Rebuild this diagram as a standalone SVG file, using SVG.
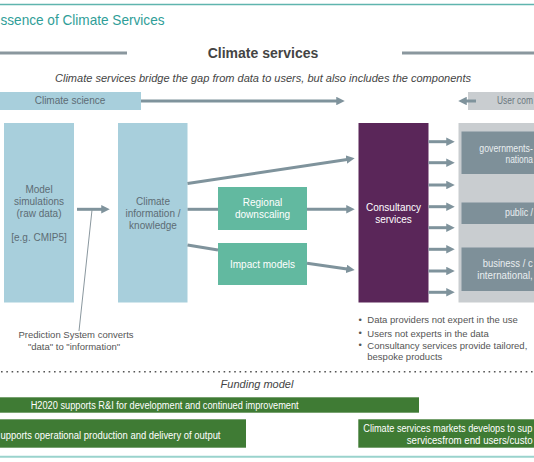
<svg xmlns="http://www.w3.org/2000/svg" width="534" height="462" viewBox="0 0 534 462">
<defs>
<style>
text{font-family:"Liberation Sans",Arial,sans-serif;}
.bt{font-size:10px;fill:#5d6c74;text-anchor:middle;}
.wt{font-size:10px;fill:#ffffff;text-anchor:middle;}
.gt{font-size:10px;fill:#e9eef0;}
.blt{font-size:9.5px;fill:#555;}
.ft{font-size:10px;fill:#ffffff;}
.conn{stroke:#7f939c;stroke-width:3;fill:none;}
.blue{fill:#a8cfdc;}
.teal{fill:#62b9a0;}
.green{fill:#3f7b34;}
.dgrey{fill:#7e9099;}
</style>
<marker id="ah" viewBox="0 0 10 10" refX="5" refY="5" markerWidth="8.5" markerHeight="8.5" markerUnits="userSpaceOnUse" orient="auto">
<path d="M0,0 L10,5 L0,10 z" fill="#7f939c"/>
</marker>
</defs>

<rect width="534" height="462" fill="#ffffff"/>

<!-- header -->
<g id="header">
<line x1="0" y1="4.5" x2="534" y2="4.5" stroke="#5fb5ae" stroke-width="1.5"/>
<text x="0.5" y="25" font-size="14.5" fill="#2f9e98" textLength="164" lengthAdjust="spacingAndGlyphs">ssence of Climate Services</text>
<line x1="0" y1="53" x2="127" y2="53" stroke="#8a979e" stroke-width="3"/>
<line x1="402" y1="53" x2="534" y2="53" stroke="#8a979e" stroke-width="3"/>
<text x="263" y="57.5" font-size="14" font-weight="bold" fill="#444" text-anchor="middle">Climate services</text>
<text x="263" y="81.5" font-size="11" font-style="italic" fill="#444" text-anchor="middle" textLength="416" lengthAdjust="spacingAndGlyphs">Climate services bridge the gap from data to users, but also includes the components</text>
</g>

<g id="climate-science">
<rect x="0" y="92" width="141" height="18" class="blue"/>
<text x="70" y="104" class="bt">Climate science</text>
</g>

<g id="user-community">
<rect x="468" y="92" width="66" height="18" fill="#c9cdd0"/>
<text x="497" y="104" class="gt" style="fill:#6b777e" textLength="36" lengthAdjust="spacingAndGlyphs">User com</text>
</g>

<g id="model-simulations">
<rect x="4" y="123" width="70" height="179.5" class="blue"/>
<text x="39" y="192.5" class="bt">Model</text>
<text x="39" y="204.5" class="bt">simulations</text>
<text x="39" y="216.5" class="bt">(raw data)</text>
<text x="39" y="240.5" class="bt">[e.g. CMIP5]</text>
</g>

<g id="climate-information">
<rect x="118" y="123" width="69.5" height="179.5" class="blue"/>
<text x="153" y="204.5" class="bt">Climate</text>
<text x="153" y="216.5" class="bt">information /</text>
<text x="153" y="228.5" class="bt">knowledge</text>
</g>

<g id="regional-downscaling">
<rect x="218" y="187" width="89" height="43" class="teal"/>
<text x="262.5" y="206.3" class="wt">Regional</text>
<text x="262.5" y="218" class="wt">downscaling</text>
</g>

<g id="impact-models">
<rect x="218" y="243" width="89" height="42" class="teal"/>
<text x="262.5" y="267.5" class="wt">Impact models</text>
</g>

<g id="consultancy-services">
<rect x="358.5" y="123" width="70" height="179.5" fill="#5a2659"/>
<text x="393.5" y="210.5" class="wt">Consultancy</text>
<text x="393.5" y="222.5" class="wt">services</text>
</g>

<g id="users">
<rect x="458.5" y="123" width="76" height="179.5" fill="#c9cdd0"/>
<g id="governments">
<rect x="461.5" y="131.5" width="73" height="42.5" class="dgrey"/>
<text x="479.3" y="151.8" class="gt" textLength="53.5" lengthAdjust="spacingAndGlyphs">governments-</text>
<text x="505.5" y="162.8" class="gt" textLength="27.5" lengthAdjust="spacingAndGlyphs">nationa</text>
</g>
<g id="public">
<rect x="461.5" y="202.5" width="73" height="21.5" class="dgrey"/>
<text x="505" y="216.2" class="gt" textLength="28" lengthAdjust="spacingAndGlyphs">public /</text>
</g>
<g id="business">
<rect x="461.5" y="247.5" width="73" height="43.5" class="dgrey"/>
<text x="482.7" y="266.8" class="gt" textLength="50" lengthAdjust="spacingAndGlyphs">business / c</text>
<text x="477.3" y="278.5" class="gt" textLength="55.5" lengthAdjust="spacingAndGlyphs">international,</text>
</g>
</g>

<!-- connectors -->
<g id="connectors">
<line x1="141" y1="101" x2="340.5" y2="101" class="conn" marker-end="url(#ah)"/>
<line x1="476" y1="101" x2="462.5" y2="101" class="conn" marker-end="url(#ah)"/>
<line x1="77" y1="209.3" x2="105.5" y2="209.3" class="conn" marker-end="url(#ah)"/>
<line x1="92" y1="210" x2="79" y2="331" stroke="#8a979e" stroke-width="1"/>
<line x1="187.5" y1="183.5" x2="350.5" y2="158.9" class="conn" marker-end="url(#ah)"/>
<line x1="187.5" y1="209.3" x2="218" y2="209.3" class="conn"/>
<line x1="307" y1="209.3" x2="350.5" y2="209.3" class="conn" marker-end="url(#ah)"/>
<line x1="187.5" y1="245" x2="218" y2="250" class="conn"/>
<line x1="307" y1="263.3" x2="350.5" y2="269.4" class="conn" marker-end="url(#ah)"/>
<line x1="428.5" y1="141.7" x2="450.5" y2="141.7" class="conn" marker-end="url(#ah)"/>
<line x1="428.5" y1="162.7" x2="450.5" y2="162.7" class="conn" marker-end="url(#ah)"/>
<line x1="428.5" y1="185" x2="450.5" y2="185" class="conn" marker-end="url(#ah)"/>
<line x1="428.5" y1="206.7" x2="450.5" y2="206.7" class="conn" marker-end="url(#ah)"/>
<line x1="428.5" y1="227.7" x2="450.5" y2="227.7" class="conn" marker-end="url(#ah)"/>
<line x1="428.5" y1="249.3" x2="450.5" y2="249.3" class="conn" marker-end="url(#ah)"/>
<line x1="428.5" y1="271" x2="450.5" y2="271" class="conn" marker-end="url(#ah)"/>
<line x1="428.5" y1="292.3" x2="450.5" y2="292.3" class="conn" marker-end="url(#ah)"/>
</g>

<g id="prediction-note">
<text x="76" y="337.8" class="blt" text-anchor="middle" font-size="10">Prediction System converts</text>
<text x="74" y="350.2" class="blt" text-anchor="middle" font-size="10">"data" to "information"</text>
</g>

<g id="bullets">
<text x="358.5" y="323" class="blt" font-size="7">•</text>
<text x="367.3" y="323.3" class="blt">Data providers not expert in the use</text>
<text x="358.5" y="336.3" class="blt" font-size="7">•</text>
<text x="367.3" y="336.6" class="blt">Users not experts in the data</text>
<text x="358.5" y="348.3" class="blt" font-size="7">•</text>
<text x="367.3" y="348.6" class="blt">Consultancy services provide tailored,</text>
<text x="367.3" y="360" class="blt">bespoke products</text>
</g>

<line x1="1" y1="371.7" x2="534" y2="371.7" stroke="#555" stroke-width="1.6" stroke-dasharray="1.6 3.7"/>

<g id="funding">
<text x="257" y="388.2" font-size="11" font-style="italic" fill="#444" text-anchor="middle">Funding model</text>
<g id="h2020">
<rect x="0" y="397.3" width="419" height="15.4" class="green"/>
<text x="30.7" y="408.6" class="ft" textLength="268" lengthAdjust="spacingAndGlyphs">H2020 supports R&amp;I for development and continued improvement</text>
</g>
<g id="operational">
<rect x="0" y="419.3" width="246" height="28.4" class="green"/>
<text x="0.5" y="439.2" class="ft" textLength="220" lengthAdjust="spacingAndGlyphs">upports operational production and delivery of output</text>
</g>
<g id="markets">
<rect x="358.3" y="419.3" width="176" height="28.4" class="green"/>
<text x="363.3" y="431.5" class="ft" textLength="169" lengthAdjust="spacingAndGlyphs">Climate services markets develops to sup</text>
<text x="406.7" y="444.3" class="ft" textLength="126" lengthAdjust="spacingAndGlyphs">servicesfrom end users/custo</text>
</g>
</g>

<line x1="0" y1="456.7" x2="534" y2="456.7" stroke="#9ad3cd" stroke-width="2"/>
</svg>
